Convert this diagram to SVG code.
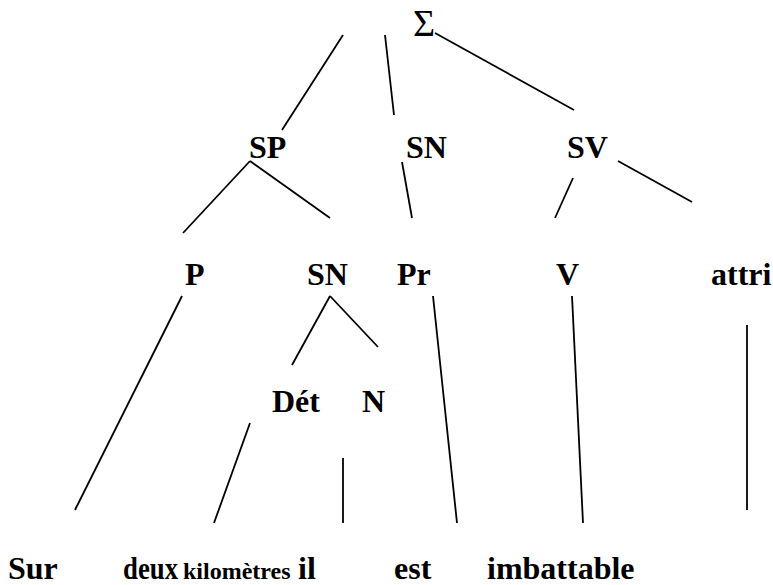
<svg xmlns="http://www.w3.org/2000/svg" width="773" height="585" viewBox="0 0 773 585">
<style>
.lbl{font-family:"Liberation Serif","Times New Roman",serif;font-weight:bold;font-size:32px;fill:#000}
.sm{font-size:24px}
.sig{font-family:"Liberation Serif","Times New Roman",serif;font-weight:normal;font-size:38px;fill:#000}
.edges line{stroke:#000;stroke-width:1.8;fill:none}
</style>
<rect width="773" height="585" fill="#fff"/>
<g class="edges" id="connectors">
<line x1="343" y1="35" x2="282" y2="130"/>
<line x1="385" y1="35" x2="394" y2="115"/>
<line x1="435" y1="33" x2="574" y2="110"/>
<line x1="250" y1="161" x2="183" y2="233"/>
<line x1="250" y1="161" x2="330" y2="218"/>
<line x1="402" y1="162" x2="412" y2="218"/>
<line x1="573" y1="178" x2="555" y2="218"/>
<line x1="618" y1="161" x2="692" y2="202"/>
<line x1="182" y1="296" x2="75" y2="510"/>
<line x1="330" y1="296" x2="292" y2="365"/>
<line x1="330" y1="296" x2="378" y2="347"/>
<line x1="250" y1="423" x2="214" y2="523"/>
<line x1="343" y1="458" x2="343" y2="523"/>
<line x1="433" y1="296" x2="457" y2="523"/>
<line x1="572" y1="296" x2="583" y2="523"/>
<line x1="747" y1="325" x2="747" y2="510"/>
</g>
<g id="n-sigma"><text class="sig" x="413" y="36">Σ</text></g>
<g id="n-SP"><text class="lbl" x="249" y="158">SP</text></g>
<g id="n-SN1"><text class="lbl" x="406" y="158">SN</text></g>
<g id="n-SV"><text class="lbl" x="567" y="158">SV</text></g>
<g id="n-P"><text class="lbl" x="185" y="285">P</text></g>
<g id="n-SN2"><text class="lbl" x="307" y="285">SN</text></g>
<g id="n-Pr"><text class="lbl" x="397" y="285">Pr</text></g>
<g id="n-V"><text class="lbl" x="556" y="285">V</text></g>
<g id="n-attri"><text class="lbl" x="711" y="285">attri</text></g>
<g id="n-Det"><text class="lbl" x="272" y="412">Dét</text></g>
<g id="n-N"><text class="lbl" x="362" y="412">N</text></g>
<g id="w-Sur"><text class="lbl" x="8" y="579">Sur</text></g>
<g id="w-deux"><text class="lbl" x="123" y="579" textLength="55" lengthAdjust="spacingAndGlyphs">deux</text></g>
<g id="w-kilometres"><text class="lbl sm" x="183" y="579">kilomètres</text></g>
<g id="w-il"><text class="lbl" x="298" y="579">il</text></g>
<g id="w-est"><text class="lbl" x="394" y="579">est</text></g>
<g id="w-imbattable"><text class="lbl" x="487" y="579">imbattable</text></g>
</svg>
